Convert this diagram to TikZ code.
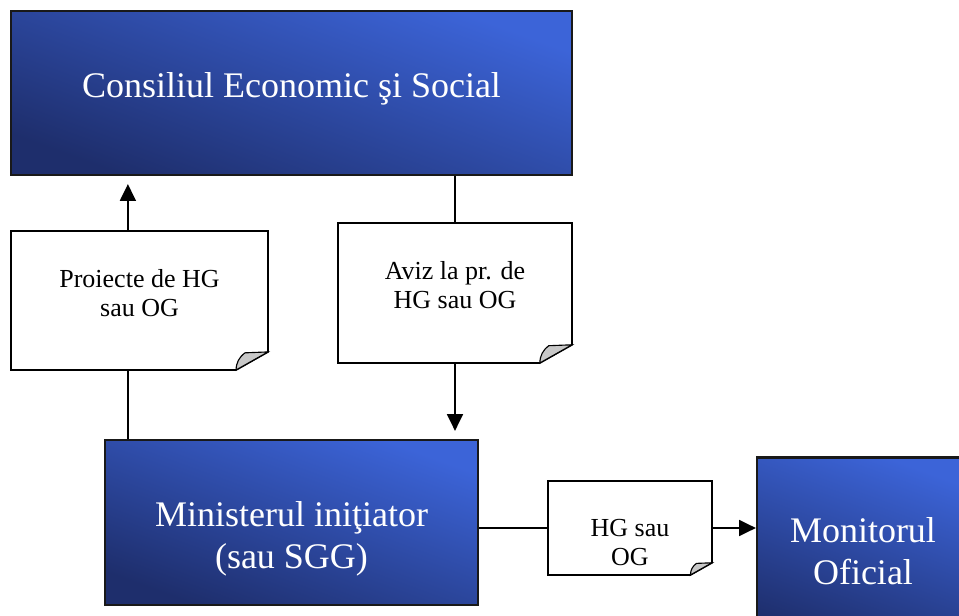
\documentclass[tikz,border=0pt]{standalone}
\usepackage{fontspec}
\setmainfont{Liberation Serif}
\usetikzlibrary{positioning}
\usetikzlibrary{arrows.meta}
\usetikzlibrary{calc}

\definecolor{boxlight}{RGB}{60,100,216}
\definecolor{boxdark}{RGB}{30,46,108}
\definecolor{foldgray}{RGB}{200,200,200}

\newcommand{\boxfont}{\fontsize{25.6}{30}\selectfont}
\newcommand{\docfont}{\fontsize{18.5}{20.5}\selectfont}

\begin{document}
\begin{tikzpicture}[
  bluebox/.style={draw=black!90, line width=1.6pt, top color=boxlight, bottom color=boxdark, shading angle=-20, inner sep=0},
  boxtext/.style={text=white, font=\boxfont, align=center, inner sep=0},
  docbox/.style={inner sep=0, outer sep=0},
  docline/.style={draw=black, line width=1.2pt, fill=white},
  fold/.style={draw=black, line width=0.8pt, fill=foldgray},
  doctext/.style={font=\docfont, align=center, inner sep=0, anchor=north},
  conn/.style={line width=1.2pt},
  arr/.style={conn, -{Triangle[length=0.42cm, width=0.4cm]}}
]

  \useasboundingbox (0,0) rectangle (23.975,15.375);

  \node[bluebox, minimum width=14.025cm, minimum height=4.1cm] (ces) at (7.2875,13.05) {};
  \node[bluebox, minimum width=9.325cm, minimum height=4.125cm] (min) at (7.2875,2.3125) {};
  \node[bluebox, minimum width=5.3cm, minimum height=4.7cm] (mo) at (21.575,1.585) {};

  \node[boxtext] (cestxt) at ([yshift=0.1cm]ces.center) {Consiliul Economic şi Social};
  \node[boxtext] (mintxt) at ([yshift=-0.4cm]min.center) {Ministerul iniţiator\\(sau SGG)};
  \node[boxtext] (motxt) at (mo.center) {Monitorul\\Oficial};

  \foreach \name/\x/\y/\w/\h/\txt in {doc1/3.4875/7.8625/6.425/3.475/{Proiecte de HG\\sau OG},
                                      doc2/11.375/8.05/5.85/3.5/{Aviz la pr. de\\HG sau OG},
                                      doc3/15.75/2.175/4.1/2.35/{HG sau\\OG}} {
    \node[docbox, minimum width=\w cm, minimum height=\h cm] (\name) at (\x,\y) {};
    \pgfmathsetmacro\fx{0.23*\h}
    \pgfmathsetmacro\fy{0.13*\h}
    \pgfmathsetmacro\fb{0.72*\fx}
    \pgfmathsetmacro\fc{0.95*\fy}
    \draw[docline] (\name.north west) -- (\name.north east) -- ([yshift=\fy cm]\name.south east)
      -- ([xshift=-\fx cm]\name.south east) -- (\name.south west) -- cycle;
    \draw[fold] ([xshift=-\fx cm]\name.south east) to[bend left=25] ([xshift=-\fb cm, yshift=\fc cm]\name.south east)
      -- ([yshift=\fy cm]\name.south east) -- cycle;
    \node[doctext] (\name txt) at ([yshift=-0.95cm]\name.north) {\txt};
  }

  \draw[arr, shorten >=0.2cm] ([xshift=-0.29cm]doc1.north) -- ([xshift=-0.29cm]doc1.north |- ces.south);
  \draw[conn] ([xshift=-0.29cm]doc1.south) -- ([xshift=-0.29cm]doc1.south |- min.north);
  \draw[conn] (ces.south -| doc2.north) -- (doc2.north);
  \draw[arr, shorten >=0.2cm] (doc2.south) -- (doc2.south |- min.north);
  \draw[conn] (min.east |- doc3.west) -- (doc3.west);
  \draw[arr] (doc3.east) -- (doc3.east -| mo.west);

\end{tikzpicture}
\end{document}
